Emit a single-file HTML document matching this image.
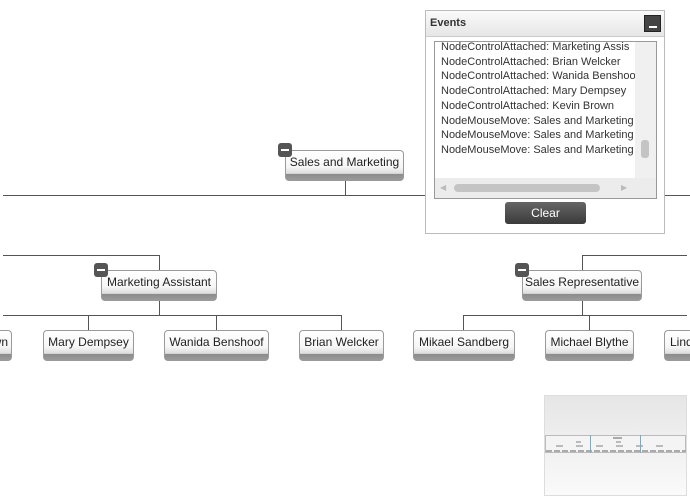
<!DOCTYPE html>
<html><head><meta charset="utf-8"><style>
*{margin:0;padding:0;box-sizing:border-box}
html,body{width:690px;height:496px;overflow:hidden}
body{background:#fff;font-family:"Liberation Sans",sans-serif}
#w{position:relative;width:690px;height:496px;overflow:hidden}
.h{position:absolute;height:1px;background:#555}
.v{position:absolute;width:1px;background:#555}
.n{position:absolute;height:31px;border:1px solid #9a9a9a;border-radius:4px;background:linear-gradient(#fff 0%,#f6f6f6 55%,#dcdcdc 78%,#8c8c8c 80%,#9a9a9a 100%);font-size:12px;color:#222;text-align:center;line-height:23px;white-space:nowrap;overflow:hidden}
.m{position:absolute;width:14px;height:14px;background:#555;border-radius:3px}
.m:after{content:"";position:absolute;left:3px;top:6px;width:8px;height:2px;background:#fff}
.ev{position:absolute;left:425px;top:10px;width:240px;height:224px;border:1px solid #bbb;background:#fff}
.hd{position:absolute;left:0;top:0;width:238px;height:26px;background:linear-gradient(#fafafa,#e6e6e6);border-bottom:1px solid #ccc;font-size:11px;font-weight:bold;color:#333;padding:6px 4px}
.list{position:absolute;left:8px;top:30px;width:223px;height:158px;border:1px solid #999;background:#fff;overflow:hidden}
.list div{font-size:11px;color:#333;line-height:14.7px;white-space:nowrap;padding-left:6px}
</style></head><body><div id="w">
<div class="h" style="left:3px;top:195px;width:687px"></div>
<div class="v" style="left:345px;top:181px;height:14px"></div>
<div class="n" style="left:285px;top:150px;width:119px">Sales and Marketing</div>
<div class="m" style="left:278px;top:143px"></div>

<div class="h" style="left:3px;top:255px;width:157px"></div>
<div class="v" style="left:159px;top:255px;height:15px"></div>
<div class="n" style="left:101px;top:270px;width:116px">Marketing Assistant</div>
<div class="m" style="left:94px;top:263px"></div>
<div class="v" style="left:159px;top:301px;height:14px"></div>
<div class="h" style="left:3px;top:315px;width:339px"></div>
<div class="v" style="left:88px;top:315px;height:15px"></div>
<div class="v" style="left:216px;top:315px;height:15px"></div>
<div class="v" style="left:341px;top:315px;height:15px"></div>
<div class="n" style="left:-80px;top:330px;width:92px;text-align:right;padding-right:3px">Kevin Brown</div>
<div class="n" style="left:43px;top:330px;width:91px">Mary Dempsey</div>
<div class="n" style="left:164px;top:330px;width:105px">Wanida Benshoof</div>
<div class="n" style="left:299px;top:330px;width:85px">Brian Welcker</div>

<div class="h" style="left:582px;top:255px;width:105px"></div>
<div class="v" style="left:582px;top:255px;height:15px"></div>
<div class="n" style="left:522px;top:270px;width:120px">Sales Representative</div>
<div class="m" style="left:515px;top:263px"></div>
<div class="v" style="left:582px;top:301px;height:14px"></div>
<div class="h" style="left:463px;top:315px;width:224px"></div>
<div class="v" style="left:463px;top:315px;height:15px"></div>
<div class="v" style="left:589px;top:315px;height:15px"></div>
<div class="n" style="left:413px;top:330px;width:102px">Mikael Sandberg</div>
<div class="n" style="left:545px;top:330px;width:89px">Michael Blythe</div>
<div class="n" style="left:664px;top:330px;width:26px;text-align:left;padding-left:5px;border-right:none;border-radius:4px 0 0 4px">Linda Mitchell</div>

<div class="ev">
 <div class="hd">Events</div>
 <div style="position:absolute;left:218px;top:4px;width:17px;height:17px;background:#444;border:1px solid #222"><div style="position:absolute;left:4px;top:10px;width:8px;height:2px;background:#fff"></div></div>
 <div class="list">
  <div style="margin-top:-2px">NodeControlAttached: Marketing Assis</div>
  <div>NodeControlAttached: Brian Welcker</div>
  <div>NodeControlAttached: Wanida Benshoof</div>
  <div>NodeControlAttached: Mary Dempsey</div>
  <div>NodeControlAttached: Kevin Brown</div>
  <div>NodeMouseMove: Sales and Marketing</div>
  <div>NodeMouseMove: Sales and Marketing</div>
  <div>NodeMouseMove: Sales and Marketing</div>
  <div style="position:absolute;right:0;top:0;width:21px;height:136px;background:#f0f0f0;padding:0"><div style="position:absolute;left:6px;top:98px;width:8px;height:18px;background:#c4c4c4;border-radius:3px;padding:0"></div></div>
  <div style="position:absolute;left:0;bottom:0;width:221px;height:20px;background:#ececec;padding:0"><div style="position:absolute;left:19px;top:6px;width:146px;height:8px;background:#c4c4c4;border-radius:4px;padding:0"></div><div style="position:absolute;left:5px;top:3px;font-size:8px;color:#bbb;padding:0">◀</div><div style="position:absolute;left:186px;top:3px;font-size:8px;color:#bbb;padding:0">▶</div></div>
 </div>
 <div style="position:absolute;left:79px;top:191px;width:81px;height:22px;border-radius:3px;background:linear-gradient(#666,#3a3a3a);color:#fff;font-size:12px;text-align:center;line-height:22px">Clear</div>
</div>

<div style="position:absolute;left:544px;top:395px;width:143px;height:101px;border:1px solid #ddd;background:linear-gradient(#e6e6e6,#fafafa)">
 <div style="position:absolute;left:0;top:39px;width:141px;height:18px;border:1px solid #bbb;background:#f4f4f4">
  <div style="position:absolute;left:0;top:14px;width:140px;height:2px;background:repeating-linear-gradient(90deg,#aaa 0 6px,transparent 6px 8px)"></div>
  <div style="position:absolute;left:10px;top:9px;width:120px;height:2px;background:repeating-linear-gradient(90deg,#bbb 0 7px,transparent 7px 20px)"></div>
  <div style="position:absolute;left:30px;top:5px;width:80px;height:2px;background:repeating-linear-gradient(90deg,#bbb 0 5px,transparent 5px 40px)"></div>
  <div style="position:absolute;left:67px;top:1px;width:9px;height:2px;background:#aaa"></div>
  <div style="position:absolute;left:44px;top:-1px;width:1px;height:18px;background:#6ab0d0"></div>
  <div style="position:absolute;left:94px;top:-1px;width:1px;height:18px;background:#6ab0d0"></div>
 </div>
</div>
</div></body></html>
